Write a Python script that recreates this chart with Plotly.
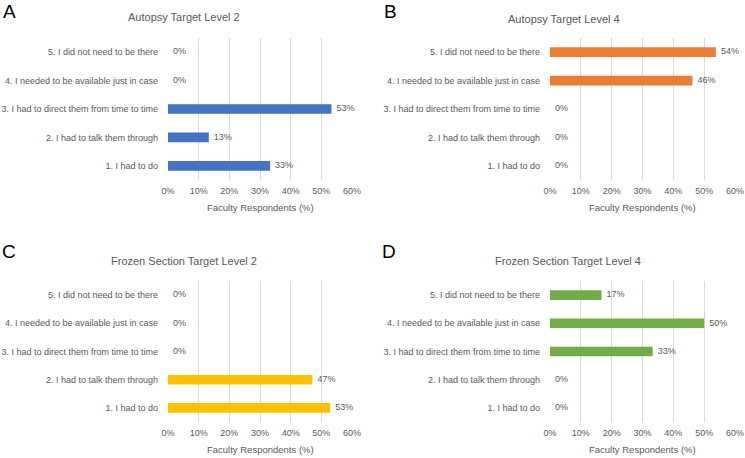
import plotly.graph_objects as go

categories = ["1. I had to do", "2. I had to talk them through",
              "3. I had to direct them from time to time",
              "4. I needed to be available just in case",
              "5. I did not need to be there"]
autopsy_l2 = [33.3, 13.3, 53.3, 0, 0]
autopsy_l4 = [0, 0, 0, 46.2, 53.8]
frozen_l2 = [52.9, 47.1, 0, 0, 0]
frozen_l4 = [0, 0, 33.3, 50.0, 16.7]
x_ticks = [0, 10, 20, 30, 40, 50, 60]
x_tick_labels = ["0%", "10%", "20%", "30%", "40%", "50%", "60%"]

W, H = 745, 458
panels = [
    dict(vals=autopsy_l2, color="#4472C4", title="Autopsy Target Level 2", letter="A",
         x0=168, x1=352, y0=38, y1=180, tx=184, ty=17, lx=9, ly=11),
    dict(vals=autopsy_l4, color="#ED7D31", title="Autopsy Target Level 4", letter="B",
         x0=550, x1=735, y0=38, y1=180, tx=564, ty=19, lx=390, ly=11),
    dict(vals=frozen_l2, color="#FFC000", title="Frozen Section Target Level 2", letter="C",
         x0=168, x1=352, y0=281, y1=422, tx=184, ty=261, lx=9, ly=252),
    dict(vals=frozen_l4, color="#70AD47", title="Frozen Section Target Level 4", letter="D",
         x0=550, x1=735, y0=281, y1=422, tx=568, ty=261, lx=389, ly=252),
]

FONT = "Liberation Sans"
GRAY = "#595959"
fig = go.Figure()
layout = dict(width=W, height=H, margin=dict(l=0, r=0, t=0, b=0, autoexpand=False),
              paper_bgcolor="white", plot_bgcolor="white", showlegend=False,
              font=dict(family=FONT, color=GRAY, size=9))
annotations = []
for i, p in enumerate(panels, start=1):
    xa = "x" if i == 1 else f"x{i}"
    ya = "y" if i == 1 else f"y{i}"
    fig.add_trace(go.Bar(x=p["vals"], y=categories, orientation="h",
                         marker=dict(color=p["color"], line=dict(width=0)),
                         width=0.34, xaxis=xa, yaxis=ya, hoverinfo="skip"))
    fig.add_trace(go.Scatter(x=p["vals"], y=categories, mode="text",
                             text=["  %d%%" % round(v) for v in p["vals"]],
                             textposition="middle right",
                             textfont=dict(family=FONT, size=9, color=GRAY),
                             xaxis=xa, yaxis=ya, hoverinfo="skip", cliponaxis=False))
    layout["xaxis" if i == 1 else f"xaxis{i}"] = dict(
        domain=[p["x0"] / W, p["x1"] / W], range=[0, 60], anchor=ya,
        tickvals=x_ticks, ticktext=x_tick_labels, showgrid=True, automargin=False,
        gridcolor="#D9D9D9", gridwidth=1, zeroline=False, showline=False,
        tickfont=dict(size=9, color=GRAY, family=FONT), ticks="", ticklabelstandoff=4)
    layout["yaxis" if i == 1 else f"yaxis{i}"] = dict(
        domain=[1 - p["y1"] / H, 1 - p["y0"] / H], range=[-0.5, 4.5], anchor=xa,
        type="category", categoryorder="array", categoryarray=categories,
        showgrid=False, zeroline=False, showline=False, ticks="", automargin=False,
        tickfont=dict(size=9, color=GRAY, family=FONT), ticklabelstandoff=9)
    annotations.append(dict(text=p["title"], x=p["tx"] / W, y=1 - p["ty"] / H,
                            xref="paper", yref="paper", showarrow=False,
                            xanchor="center", yanchor="middle",
                            font=dict(size=11, color=GRAY, family=FONT)))
    annotations.append(dict(text=p["letter"], x=p["lx"] / W, y=1 - p["ly"] / H,
                            xref="paper", yref="paper", showarrow=False,
                            xanchor="center", yanchor="middle",
                            font=dict(size=19, color="black", family=FONT)))
    annotations.append(dict(text="Faculty Respondents (%)",
                            x=(p["x0"] + p["x1"]) / 2 / W,
                            y=1 - (p["y1"] + 27) / H,
                            xref="paper", yref="paper", showarrow=False,
                            xanchor="center", yanchor="middle",
                            font=dict(size=9.5, color=GRAY, family=FONT)))
layout["annotations"] = annotations
fig.update_layout(**layout)
fig.write_html("out.html", config={"displayModeBar": False},
               post_script="document.body.style.margin='0';document.body.style.overflow='hidden';")
